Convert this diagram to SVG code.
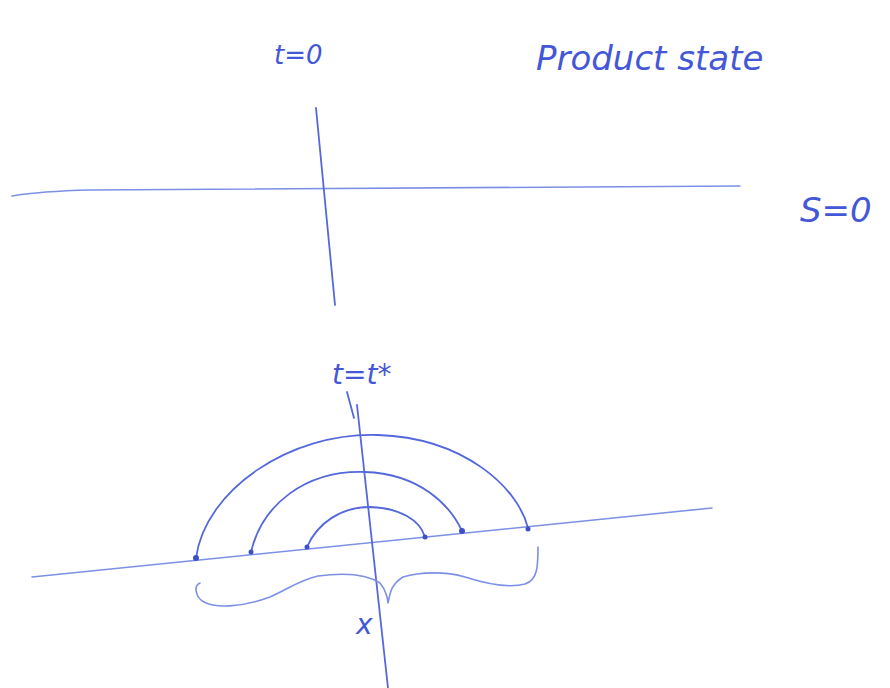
<svg xmlns="http://www.w3.org/2000/svg" width="890" height="688" viewBox="0 0 890 688">
<style>
.ink{fill:none;stroke:#5468dc;stroke-width:1.8;stroke-linecap:round;stroke-linejoin:round}
.light{stroke:#7d90e6;stroke-width:1.6}
.lbl{font-family:"DejaVu Sans",sans-serif;fill:#4457d6;font-style:italic}
.dot{fill:#3e50c8}
</style>
<rect width="890" height="688" fill="#ffffff"/>
<g id="labels">
<text class="lbl" x="274" y="64" font-size="26">t=0</text>
<text class="lbl" x="536" y="70" font-size="34">Product state</text>
<text class="lbl" x="800" y="222" font-size="34">S=0</text>
<text class="lbl" x="332" y="384" font-size="28">t=t*</text>
<text class="lbl" x="356" y="634" font-size="28">x</text>
</g>
<g id="connectors">
<path class="ink light" d="M12,196 C30,193 50,191 90,190 L740,186"/>
<path class="ink" d="M316,108 L335,305" stroke-width="2.2"/>
<path class="ink light" d="M32,577 L712,508"/>
<path class="ink" d="M347,392 L354,418 M357,405 L388,688"/>
<path class="ink" d="M196,558 C205,490 290,432 378,435 C465,438 518,488 528,528"/>
<path class="ink" d="M251,552 C262,505 305,470 365,472 C420,474 450,505 462,531"/>
<path class="ink" d="M307,547 C318,522 342,507 370,507 C400,508 420,520 425,537"/>
<path class="ink light" d="M200,583 C193,586 196,598 204,602 C215,608 240,608 270,597 C290,588 300,580 318,576 C340,573 365,573 380,583 C386,590 388,600 388,603 C390,595 390,585 403,577 C420,572 445,571 465,577 C490,585 510,588 525,584 C538,580 538,565 538,547"/>
</g>
<g id="nodes">
<circle class="dot" cx="196" cy="558" r="3"/>
<circle class="dot" cx="251" cy="552" r="2.5"/>
<circle class="dot" cx="307" cy="547" r="2.5"/>
<circle class="dot" cx="425" cy="537" r="2.5"/>
<circle class="dot" cx="462" cy="531" r="3"/>
<circle class="dot" cx="528" cy="529" r="2.5"/>
</g>
</svg>
